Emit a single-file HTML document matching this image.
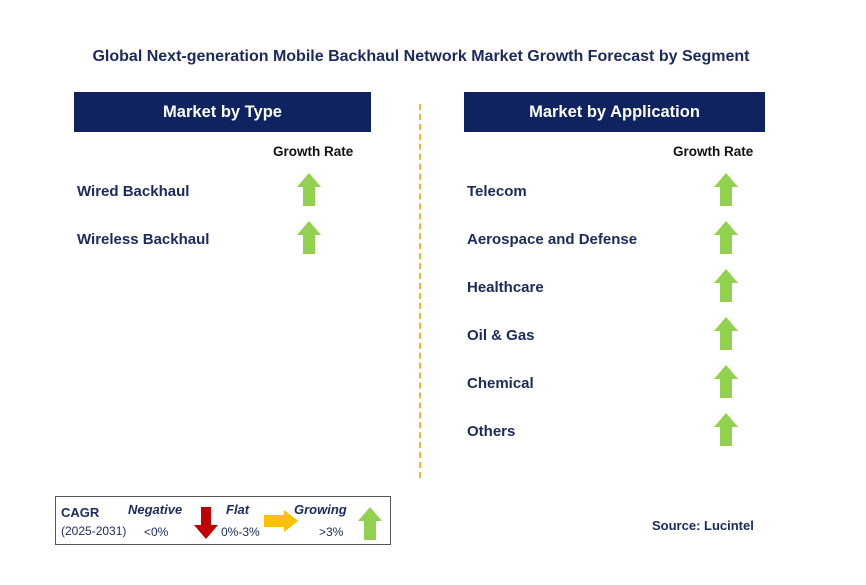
<!DOCTYPE html>
<html><head><meta charset="utf-8"><style>
body{margin:0;width:866px;height:585px;background:#fff;position:relative;font-family:"Liberation Sans",Arial,sans-serif;overflow:hidden}
.a{position:absolute}
.t{font-weight:bold;color:#1b2a5c}
.hdr{background:#0e2360;color:#fff;font-weight:bold;font-size:16.5px;text-align:center;line-height:40px;height:40px}
.lbl{font-size:15px;font-weight:bold;color:#1b2a5c}
.gr{font-size:13.5px;font-weight:bold;color:#111}
</style></head><body>
<div class="a t" style="left:0;width:842px;top:48px;text-align:center;font-size:16px">Global Next-generation Mobile Backhaul Network Market Growth Forecast by Segment</div>
<div class="a hdr" style="left:74px;top:92px;width:297px">Market by Type</div>
<div class="a hdr" style="left:464px;top:92px;width:301px">Market by Application</div>
<div class="a" style="left:419px;top:104px;height:374px;border-left:2px dashed #f5b335"></div>
<div class="a gr" style="left:273px;top:144px">Growth Rate</div>
<div class="a gr" style="left:673px;top:144px">Growth Rate</div>
<div id="rows"></div>
<div class="a" style="left:55px;top:496px;width:334px;height:47px;border:1px solid #555;font-size:12px;color:#1b2a5c">
<div class="a" style="left:5px;top:8px;font-weight:bold;font-size:13px">CAGR</div>
<div class="a" style="left:5px;top:27px;font-size:12px">(2025-2031)</div>
<div class="a" style="left:72px;top:5px;font-weight:bold;font-style:italic;font-size:13px">Negative</div>
<div class="a" style="left:88px;top:28px">&lt;0%</div>
<svg class="a" style="left:138px;top:10px" width="24" height="32"><polygon points="7,0 17,0 17,18 24,18 12,32 0,18 7,18" fill="#c00000"/></svg>
<div class="a" style="left:170px;top:5px;font-weight:bold;font-style:italic;font-size:13px">Flat</div>
<div class="a" style="left:165px;top:28px">0%-3%</div>
<svg class="a" style="left:208px;top:13px" width="34" height="22"><polygon points="0,5 20,5 20,0 34,11 20,22 20,17 0,17" fill="#ffc000"/></svg>
<div class="a" style="left:238px;top:5px;font-weight:bold;font-style:italic;font-size:13px">Growing</div>
<div class="a" style="left:263px;top:28px">&gt;3%</div>
<svg class="a" style="left:302px;top:10px" width="24" height="33"><polygon points="12,0 24,14 18,14 18,33 6,33 6,14 0,14" fill="#92d050"/></svg>
</div>
<div class="a" style="left:652px;top:518px;font-size:13px;font-weight:bold;color:#1b2a5c">Source: Lucintel</div>
<script>
const typeSegments=["Wired Backhaul","Wireless Backhaul"];
const appSegments=["Telecom","Aerospace and Defense","Healthcare","Oil & Gas","Chemical","Others"];
const rows=document.getElementById('rows');
function add(list,lx,ax,prefix){
list.forEach((s,i)=>{
const y=190+i*48;
const l=document.createElement('div');
l.className='a lbl';l.style.left=lx+'px';l.style.top=(y-7)+'px';l.textContent=s;


rows.appendChild(l);
const a=document.createElementNS('http://www.w3.org/2000/svg','svg');
a.setAttribute('class','a');a.setAttribute('width','24');a.setAttribute('height','33');
a.style.left=ax+'px';a.style.top=(y-17)+'px';
a.innerHTML='<polygon points="12,0 24,14 18,14 18,33 6,33 6,14 0,14" fill="#92d050"/>';


rows.appendChild(a);
});}
add(typeSegments,77,297,'type');
add(appSegments,467,714,'application');
</script>
</body></html>
